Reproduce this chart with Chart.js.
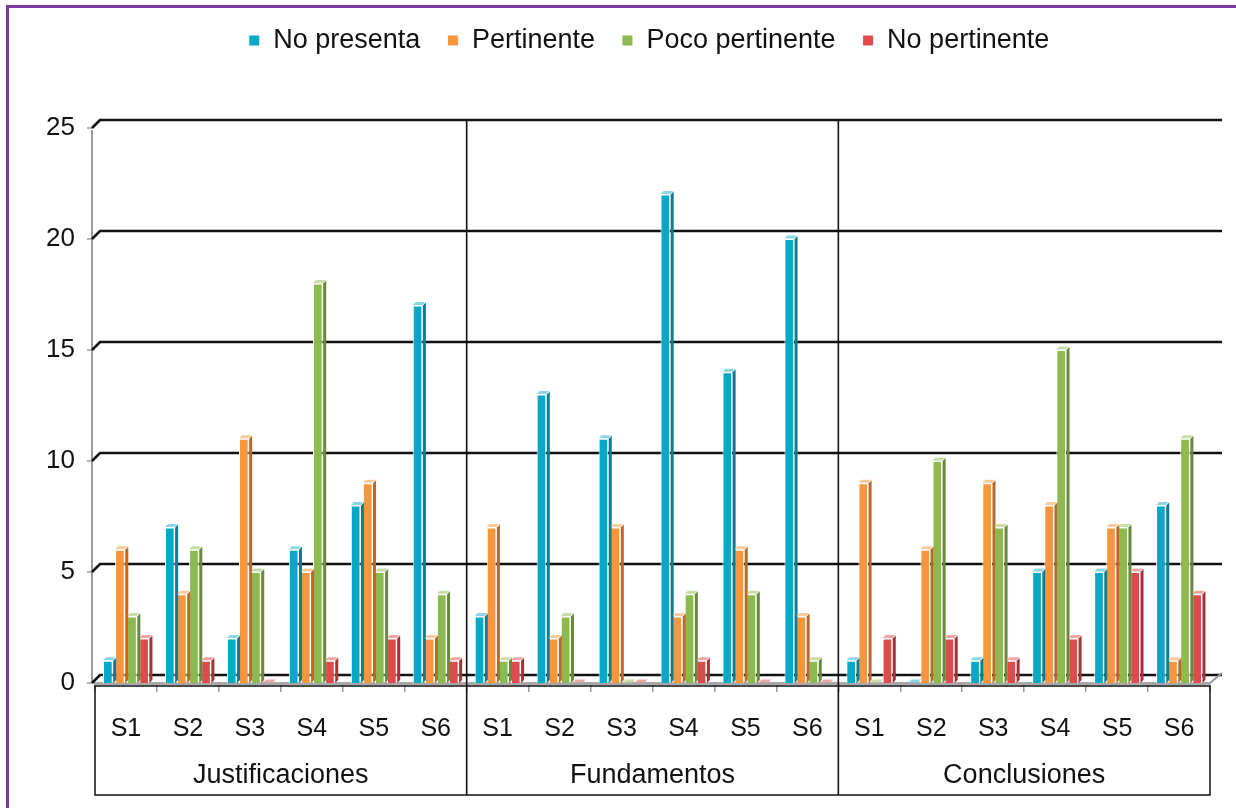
<!DOCTYPE html>
<html><head><meta charset="utf-8">
<script src="https://cdn.jsdelivr.net/npm/chart.js@4.4.0/dist/chart.umd.min.js"></script>
<style>
html,body{margin:0;padding:0;background:#fff;}
#wrap{position:relative;width:1236px;height:808px;}
#frame{position:absolute;left:6px;top:5px;width:1230px;height:803px;border-top:3px solid #7B3AA0;border-left:3px solid #7B3AA0;box-sizing:border-box;pointer-events:none;}
</style></head><body>
<div id="wrap"><canvas id="c" width="1236" height="808"></canvas><div id="frame"></div></div>
<script>
const groups = ['Justificaciones','Fundamentos','Conclusiones'];
const sessions = ['S1','S2','S3','S4','S5','S6'];
const seriesNames = ['No presenta','Pertinente','Poco pertinente','No pertinente'];
const noPresenta     = [1,7,2,6,8,17,  3,13,11,22,14,20,  1,0,1,5,5,8];
const pertinente     = [6,4,11,5,9,2,  7,2,7,3,6,3,       9,6,9,8,7,1];
const pocoPertinente = [3,6,5,18,5,4,  1,3,0,4,4,1,       0,10,7,15,7,11];
const noPertinente   = [2,1,0,1,2,1,   1,0,0,1,0,0,       2,2,1,2,5,4];
const yTicks = [0,5,10,15,20,25];

const FONT = "'Liberation Sans Narrow','Arial Narrow','Liberation Sans',Arial,sans-serif";
const colors = ['#05A8C6','#F7963C','#8DBA4E','#DF4B4D'];
const sideColors = ['#0B7E93','#B9692A','#67893A','#A23337'];
const capColors = ['#8FD6E4','#FBC99A','#C6DDA6','#EFA5A6'];
const seriesData = [noPresenta, pertinente, pocoPertinente, noPertinente];

const labels = [];
groups.forEach(g => sessions.forEach(s => labels.push(s)));

const DEPTH = 8;

const decor = {
  id: 'decor',
  beforeLayout(chart) {
    const lg = chart.legend;
    if (lg && !lg._patched) {
      const f = lg.fit;
      lg.fit = function () { f.call(this); this.height = 128; };
      lg._patched = true;
    }
  },
  afterLayout(chart) {
    const lg = chart.legend;
    if (lg) { lg.left += 40; lg.right += 40; }
  },
  beforeDatasetsDraw(chart) {
    const { ctx, chartArea: a, scales: { y } } = chart;
    ctx.save();
    ctx.strokeStyle = '#9a9a9a'; ctx.lineWidth = 2;
    ctx.beginPath();
    ctx.moveTo(a.left - 3, y.getPixelForValue(yTicks[yTicks.length - 1]) + 2);
    ctx.lineTo(a.left - 3, a.bottom);
    ctx.stroke();
    yTicks.forEach(v => {
      const p = y.getPixelForValue(v);
      ctx.strokeStyle = '#9a9a9a'; ctx.lineWidth = 1.5;
      ctx.beginPath(); ctx.moveTo(a.left - 8, p); ctx.lineTo(a.left - 3, p); ctx.stroke();
      ctx.strokeStyle = '#111'; ctx.lineWidth = 2.6;
      ctx.beginPath();
      ctx.moveTo(a.left - 3, p);
      ctx.lineTo(a.left - 3 + DEPTH, p - DEPTH);
      ctx.lineTo(a.right + 12, p - DEPTH);
      ctx.stroke();
    });
    ctx.restore();
  },
  afterDatasetsDraw(chart) {
    const { ctx } = chart;
    ctx.save();
    chart.data.datasets.forEach((ds, i) => {
      const meta = chart.getDatasetMeta(i);
      meta.data.forEach(bar => {
        const { x, y, base, width } = bar.getProps(['x', 'y', 'base', 'width'], true);
        const l = x - width / 2, r = x + width / 2, d = 3;
        ctx.fillStyle = sideColors[i];
        ctx.beginPath();
        ctx.moveTo(r + 0.5, y); ctx.lineTo(r + 0.5 + d, y - d); ctx.lineTo(r + 0.5 + d, base - d); ctx.lineTo(r + 0.5, base);
        ctx.closePath(); ctx.fill();
        ctx.fillStyle = capColors[i];
        ctx.beginPath();
        ctx.moveTo(l, y - 0.5); ctx.lineTo(l + d, y - d - 0.5); ctx.lineTo(r + d, y - d - 0.5); ctx.lineTo(r, y - 0.5);
        ctx.closePath(); ctx.fill();
      });
    });
    ctx.restore();
  },
  afterDraw(chart) {
    const { ctx, chartArea: a, scales: { x, y } } = chart;
    ctx.save();
    const boxTop = a.bottom + 3, boxBottom = a.bottom + 112;
    ctx.strokeStyle = '#9a9a9a'; ctx.lineWidth = 2;
    ctx.beginPath(); ctx.moveTo(a.right, a.bottom); ctx.lineTo(a.right + 12, a.bottom - DEPTH - 2); ctx.stroke();
    ctx.strokeStyle = '#111'; ctx.lineWidth = 1.5;
    ctx.strokeRect(a.left, boxTop, a.right - a.left, boxBottom - boxTop);
    const n = sessions.length;
    const step = (a.right - a.left) / labels.length;
    const topGrid = y.getPixelForValue(yTicks[yTicks.length - 1]) - DEPTH;
    ctx.lineWidth = 1.6;
    for (let g = 1; g < groups.length; g++) {
      const xp = a.left + g * n * step;
      ctx.beginPath(); ctx.moveTo(xp, topGrid); ctx.lineTo(xp, boxBottom); ctx.stroke();
    }
    ctx.fillStyle = '#111';
    ctx.font = "27px " + FONT;
    ctx.textAlign = 'center'; ctx.textBaseline = 'middle';
    groups.forEach((g, i) => {
      const cx = a.left + (i * n + n / 2) * step;
      ctx.fillText(g, cx, boxBottom - 19);
    });
    ctx.restore();
  }
};

new Chart(document.getElementById('c'), {
  type: 'bar',
  data: {
    labels: labels,
    datasets: seriesNames.map((name, i) => ({
      label: name,
      data: seriesData[i],
      backgroundColor: colors[i],
      borderColor: '#ffffff',
      borderWidth: 1,
      categoryPercentage: 0.78,
      barPercentage: 0.8
    }))
  },
  options: {
    responsive: false,
    animation: false,
    layout: { padding: { top: 0, left: 8, right: 26, bottom: 13 } },
    plugins: {
      tooltip: { enabled: false },
      legend: {
        position: 'top',
        labels: {
          boxWidth: 11, boxHeight: 11, padding: 27,
          color: '#111',
          font: { family: FONT, size: 27 }
        }
      }
    },
    scales: {
      y: {
        min: 0, max: 25,
        afterFit(s) { s.width = 87; },
        afterBuildTicks(s) { s.ticks = yTicks.map(v => ({ value: v })); },
        grid: { display: false },
        border: { display: false },
        ticks: { color: '#111', padding: 12, font: { family: FONT, size: 26 } }
      },
      x: {
        afterFit(s) { s.height = 112; },
        grid: { display: true, drawOnChartArea: false, drawTicks: true, tickLength: 9, color: '#9a9a9a', lineWidth: 1.5, offset: true },
        border: { display: true, color: '#a8a8a8', width: 3 },
        ticks: { color: '#111', padding: 22, maxRotation: 0, autoSkip: false, font: { family: FONT, size: 25 } }
      }
    }
  },
  plugins: [decor]
});
</script>
</body></html>
